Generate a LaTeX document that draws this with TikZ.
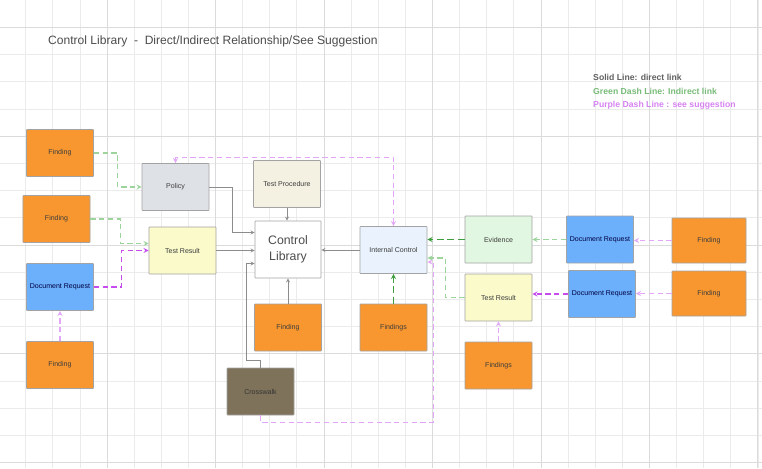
\documentclass[tikz,border=0pt]{standalone}
\usepackage{fontspec}
\setmainfont{Liberation Sans}
\usepackage{tikz}
\usetikzlibrary{arrows,calc}
\definecolor{arancio}{HTML}{F8972F}
\definecolor{azzurro}{HTML}{6CB0FC}
\definecolor{grigiobox}{HTML}{DEE1E6}
\definecolor{giallino}{HTML}{FAFACB}
\definecolor{beige}{HTML}{F4F1E2}
\definecolor{celestino}{HTML}{EAF3FD}
\definecolor{verdino}{HTML}{E1F7E1}
\definecolor{marrone}{HTML}{7F725A}
\definecolor{bordo}{HTML}{A3A3A3}
\definecolor{testo}{HTML}{3C3C3C}
\definecolor{verdechiaro}{HTML}{9CD49C}
\definecolor{verdescuro}{HTML}{3E9E3E}
\definecolor{violachiaro}{HTML}{E2A8F7}
\definecolor{violascuro}{HTML}{C64CEE}

\begin{document}
\begin{tikzpicture}[x=0.03cm,y=-0.03cm,>=stealth,
  box/.style={draw=bordo,line width=0.5pt,rounded corners=0.5pt,inner sep=0pt,
    minimum width=2.01cm,minimum height=1.41cm,align=center,text=testo,
    font=\fontsize{6pt}{7pt}\selectfont},
  finding/.style={box,fill=arancio},
  docreq/.style={box,fill=azzurro,text=black!75!blue},
  diretta/.style={->,color=black!45,line width=0.6pt},
  verde/.style={->,color=verdechiaro,line width=1pt,dash pattern=on 4.5pt off 3pt},
  verdeforte/.style={->,color=verdescuro,line width=1pt,dash pattern=on 6pt off 3pt},
  viola/.style={->,color=violachiaro,line width=1pt,dash pattern=on 4.5pt off 3pt},
  violaforte/.style={->,color=violascuro,line width=1pt,dash pattern=on 4.5pt off 3pt},
  legenda/.style={anchor=west,inner sep=0pt,font=\bfseries\fontsize{7.4pt}{8pt}\selectfont}]
\useasboundingbox (0,0) rectangle (762,468);
% griglia di sfondo
\fill[white] (0,0) rectangle (762,468);
\foreach \k in {1,...,28}
  \draw[black!8,line width=0.4pt] ({27.12*\k-1.6},0) -- ({27.12*\k-1.6},468);
\foreach \k in {1,...,17}
  \draw[black!8,line width=0.4pt] (0,{27.2*\k}) -- (762,{27.2*\k});
\foreach \k in {4,8,...,28}
  \draw[black!14,line width=0.5pt] ({27.12*\k-1.6},0) -- ({27.12*\k-1.6},468);
\foreach \k in {1,5,...,17}
  \draw[black!14,line width=0.5pt] (0,{27.2*\k}) -- (762,{27.2*\k});
% titolo e legenda
\node[anchor=west,inner sep=0pt,text=black!70,font=\fontsize{10.3pt}{12pt}\selectfont] (titolo) at (48,41)
  {Control Library\ \ -\ \ Direct/Indirect Relationship/See Suggestion};
\node[legenda,text=black!62] (leg1) at (593,77) {Solid Line: direct link};
\node[legenda,text=verdescuro!70] (leg2) at (593,91) {Green Dash Line: Indirect link};
\node[legenda,text=violascuro!70] (leg3) at (593,105) {Purple Dash Line : see suggestion};
% colonna di sinistra
\node[finding] (f1) at (60,153) {Finding};
\node[finding] (f2) at (56.5,219) {Finding};
\node[docreq] (dr1) at (60,287) {Document Request};
\node[finding] (f3) at (60,365) {Finding};
\node[box,fill=grigiobox] (pol) at (175.5,187) {Policy};
\node[box,fill=giallino] (trl) at (182.5,250.5) {Test Result};
% centro
\node[box,fill=beige] (tp) at (287,184) {Test Procedure};
\node[box,fill=white,minimum width=1.98cm,minimum height=1.71cm,text=black!70,
  font=\fontsize{10.5pt}{13.6pt}\selectfont] (cl) at (288,249.5) {Control\\Library};
\node[box,fill=celestino] (ic) at (393.5,250) {Internal Control};
\node[finding] (f4) at (288,327.5) {Finding};
\node[finding] (f5) at (393.5,327.5) {Findings};
\node[box,fill=marrone,text=black!80] (cw) at (260.5,391.5) {Crosswalk};
% colonna di destra
\node[box,fill=verdino] (ev) at (498.5,239.5) {Evidence};
\node[box,fill=giallino] (trr) at (498.5,297.5) {Test Result};
\node[finding] (f6) at (498.5,365.5) {Findings};
\node[docreq] (dr2) at (600,239.5) {Document Request};
\node[docreq] (dr3) at (602,294) {Document Request};
\node[finding,minimum width=2.22cm,minimum height=1.35cm] (f7) at (709,240.5) {Finding};
\node[finding,minimum width=2.22cm,minimum height=1.35cm] (f8) at (709,293.5) {Finding};
% collegamenti diretti
\draw[diretta] (pol.east) -- ++(23,0) |- ($(cl.west)+(0,-17)$);
\draw[diretta] (trl.east) -- (trl.east -| cl.west);
\draw[diretta] (cw.north) -- ++(0,-7) -| ($(cl.west)+(-8,14)$) -- ($(cl.west)+(0,14)$);
\draw[diretta] (tp.south) -- (tp.south |- cl.north);
\draw[diretta] (f4.north) -- (cl.south);
\draw[diretta] (ic.west) -- (ic.west -| cl.east);
% collegamenti indiretti (verde)
\draw[verde] (f1.east) -- ++(24,0) |- (pol.west);
\draw[verde] (f2.east) -- ++(30,0) |- ($(trl.west)+(0,-7)$);
\draw[verdeforte] (f5.north) -- (ic.south);
\draw[verde] (trr.west) -- ++(-19,0) |- ($(ic.east)+(0,8)$);
\draw[verdeforte] (ev.west) -- (ev.west -| ic.east);
\draw[verde] (dr2.west) -- (dr2.west -| ev.east);
% suggerimenti (viola)
\draw[violaforte] (dr1.east) -- ++(28,0) |- (trl.west);
\draw[viola] (f3.north) -- (dr1.south);
\draw[viola,<->] (pol.north) -- ++(0,-6) -| (ic.north);
\draw[viola] (cw.south) -- ++(0,7) -| ($(ic.east)+(6,12)$) -- ($(ic.east)+(0,12)$);
\draw[viola] (f7.west) -- (f7.west -| dr2.east);
\draw[violaforte] (dr3.west) -- (dr3.west -| trr.east);
\draw[viola] (f8.west) -- (f8.west -| dr3.east);
\draw[viola] (f6.north) -- (trr.south);
\end{tikzpicture}
\end{document}
